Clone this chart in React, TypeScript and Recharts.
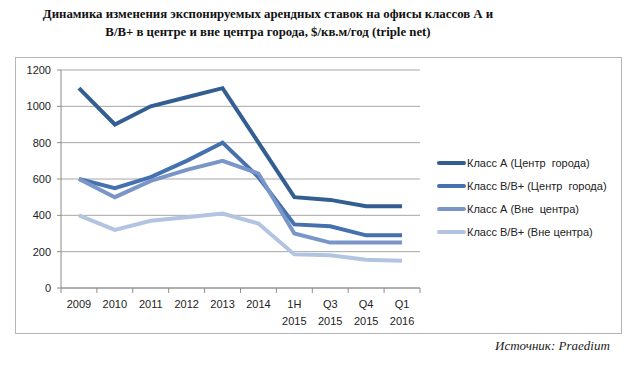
import { LineChart, Line, XAxis, YAxis, CartesianGrid } from "recharts";

const categories = ["2009", "2010", "2011", "2012", "2013", "2014", "1H 2015", "Q3 2015", "Q4 2015", "Q1 2016"];
const classACenter = [1100, 900, 1000, 1050, 1100, 800, 500, 485, 450, 450];
const classBCenter = [600, 550, 610, 700, 800, 610, 350, 340, 290, 290];
const classAOutside = [600, 500, 590, 650, 700, 630, 300, 250, 250, 250];
const classBOutside = [400, 320, 370, 390, 410, 355, 185, 180, 155, 150];
const yTicks = [0, 200, 400, 600, 800, 1000, 1200];

const series = [
  { key: "a", name: "Класс А (Центр  города)", color: "#335E91", values: classACenter },
  { key: "b", name: "Класс В/В+ (Центр  города)", color: "#4571AE", values: classBCenter },
  { key: "c", name: "Класс А (Вне  центра)", color: "#7A96C8", values: classAOutside },
  { key: "d", name: "Класс В/В+ (Вне центра)", color: "#B3C4E0", values: classBOutside },
];

const data = categories.map((c, i) => {
  const row: Record<string, string | number> = { name: c };
  series.forEach((s) => (row[s.key] = s.values[i]));
  return row;
});

const CHART_W = 607;
const CHART_H = 277;
const X_H = 46;
const MARGIN = { top: 13, right: 202, bottom: 0, left: 0 };
const Y_W = 46;
const PLOT_W = CHART_W - MARGIN.right - MARGIN.left - Y_W;
const HALF_BAND = PLOT_W / categories.length / 2;
const FONT = "'Liberation Sans', Arial, sans-serif";

function XTick(props: any) {
  const { x, payload, index } = props;
  const axisY = CHART_H - X_H;
  const lines = String(payload.value).split(" ");
  return (
    <g>
      <line x1={x - HALF_BAND} x2={x - HALF_BAND} y1={axisY} y2={axisY + 5} stroke="#8C8C8C" />
      {index === categories.length - 1 && (
        <line x1={x + HALF_BAND} x2={x + HALF_BAND} y1={axisY} y2={axisY + 5} stroke="#8C8C8C" />
      )}
      <text x={x} y={axisY} textAnchor="middle" fontSize={11} fill="#222" fontFamily={FONT}>
        {lines.map((l, i) => (
          <tspan key={i} x={x} dy={i === 0 ? 20 : 17}>
            {l}
          </tspan>
        ))}
      </text>
    </g>
  );
}

export default function App() {
  return (
    <div style={{ position: "absolute", left: 0, top: 0, width: 638, height: 366, background: "#fff" }}>
      <div
        style={{
          position: "absolute",
          left: 8,
          top: 5,
          width: 520,
          textAlign: "center",
          fontFamily: "'Liberation Serif', 'DejaVu Serif', serif",
          fontWeight: "bold",
          fontSize: 12.8,
          lineHeight: "18px",
          color: "#111",
          whiteSpace: "nowrap",
        }}
      >
        Динамика изменения экспонируемых арендных ставок на офисы классов А и
        <br />
        В/В+ в центре и вне центра города, $/кв.м/год (triple net)
      </div>
      <div
        style={{
          position: "absolute",
          left: 15,
          top: 57,
          width: CHART_W,
          height: CHART_H,
          border: "1px solid #B5B5B5",
          boxSizing: "border-box",
        }}
      >
        <div style={{ position: "absolute", left: -1, top: -1 }}>
          <LineChart width={CHART_W} height={CHART_H} data={data} margin={MARGIN}>
            <CartesianGrid vertical={false} stroke="#A6A6A6" />
            <XAxis
              dataKey="name"
              interval={0}
              height={X_H}
              padding={{ left: HALF_BAND, right: HALF_BAND }}
              tickLine={false}
              tickSize={0}
              tickMargin={0}
              stroke="#8C8C8C"
              tick={<XTick />}
            />
            <YAxis
              width={Y_W}
              domain={[0, 1200]}
              ticks={yTicks}
              tickSize={4}
              tickMargin={6}
              stroke="#8C8C8C"
              tick={{ fontSize: 11, fill: "#222", fontFamily: FONT }}
            />
            {series.map((s) => (
              <Line
                key={s.key}
                dataKey={s.key}
                name={s.name}
                stroke={s.color}
                strokeWidth={4}
                dot={false}
                isAnimationActive={false}
              />
            ))}
          </LineChart>
        </div>
        <div
          style={{
            position: "absolute",
            left: 421,
            top: 94,
            fontFamily: FONT,
            fontSize: 11,
            color: "#222",
          }}
        >
          {series.map((s) => (
            <div key={s.key} style={{ display: "flex", alignItems: "center", height: 22.8, whiteSpace: "pre" }}>
              <svg width={29} height={6} style={{ marginRight: 1 }}>
                <line x1={2} x2={27} y1={3} y2={3} stroke={s.color} strokeWidth={4} strokeLinecap="round" />
              </svg>
              <span>{s.name}</span>
            </div>
          ))}
        </div>
      </div>
      <div
        style={{
          position: "absolute",
          left: 495,
          top: 338,
          fontFamily: "'Liberation Serif', serif",
          fontStyle: "italic",
          fontSize: 13,
          color: "#222",
        }}
      >
        Источник: Praedium
      </div>
    </div>
  );
}
